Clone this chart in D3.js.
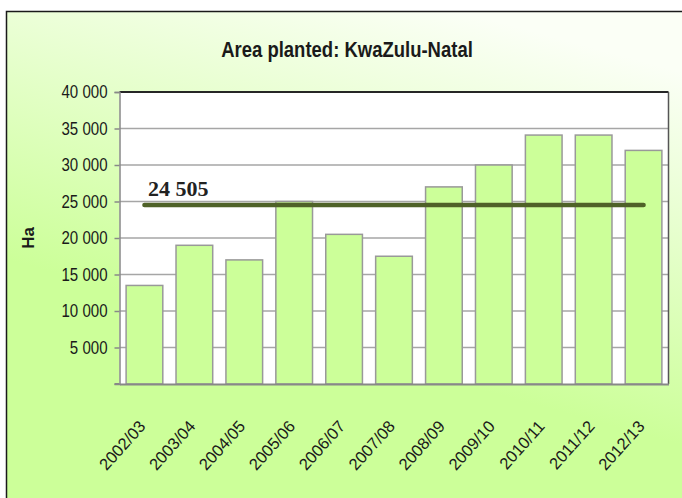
<!DOCTYPE html>
<html>
<head>
<meta charset="utf-8">
<script src="https://cdn.jsdelivr.net/npm/d3@7"></script>
<style>
  body { margin: 0; background: #fff; }
  svg { display: block; }
</style>
</head>
<body>
<div></div>
<script>
var categories = ["2002/03", "2003/04", "2004/05", "2005/06", "2006/07", "2007/08",
    "2008/09", "2009/10", "2010/11", "2011/12", "2012/13"];
var areaPlanted = [13500, 19000, 17000, 25000, 20500, 17500, 27000, 30000, 34100, 34100, 32000];
var averageLine = [24505, 24505, 24505, 24505, 24505, 24505, 24505, 24505, 24505, 24505, 24505];
var averageLabel = "24 505";
var yTicks = [5000, 10000, 15000, 20000, 25000, 30000, 35000, 40000];

var width = 682;
var height = 498;
var plotLeft = 119.5;
var plotRight = 668.5;
var plotTop = 92;
var plotBottom = 384;

var svg = d3.select('div')
    .append('svg')
    .attr('width', width)
    .attr('height', height);

// fondo degradado
var defs = svg.append("defs");
var grad = defs.append("linearGradient")
    .attr("id", "bg")
    .attr("x1", 0.65).attr("y1", 0)
    .attr("x2", 0.4).attr("y2", 0.65);
grad.append("stop").attr("offset", 0).attr("stop-color", "#fbfff6");
grad.append("stop").attr("offset", 1).attr("stop-color", "#ccff99");

svg.append("rect")
    .attr("x", 6.5).attr("y", 11.5)
    .attr("width", 700).attr("height", 500)
    .attr("fill", "url(#bg)")
    .attr("stroke", "#1a1a1a")
    .attr("stroke-width", 1.5);

// escalas
var xscale = d3.scaleBand()
    .domain(categories)
    .range([plotLeft, plotRight])
    .paddingInner(0.265)
    .paddingOuter(0.1325);

var yscale = d3.scaleLinear()
    .domain([0, 40000])
    .range([plotBottom, plotTop]);

var fmt = d3.formatLocale({ decimal: ".", thousands: " ", grouping: [3], currency: ["", ""] }).format(",");

// area del grafico
svg.append("rect")
    .attr("x", plotLeft).attr("y", plotTop)
    .attr("width", plotRight - plotLeft)
    .attr("height", plotBottom - plotTop)
    .attr("fill", "#fff");

// lineas de cuadricula
svg.append("g")
    .selectAll("line")
    .data(yTicks.slice(0, -1))
    .enter()
    .append("line")
    .attr("x1", plotLeft).attr("x2", plotRight)
    .attr("y1", d => yscale(d)).attr("y2", d => yscale(d))
    .attr("stroke", "#a6a6a6")
    .attr("stroke-width", 1.5);

// borde superior y derecho
svg.append("line")
    .attr("x1", plotLeft).attr("x2", plotRight)
    .attr("y1", plotTop).attr("y2", plotTop)
    .attr("stroke", "#262626").attr("stroke-width", 1.8);
svg.append("line")
    .attr("x1", plotRight).attr("x2", plotRight)
    .attr("y1", plotTop).attr("y2", plotBottom)
    .attr("stroke", "#555").attr("stroke-width", 1.5);

// barras
svg.append("g")
    .selectAll("rect")
    .data(areaPlanted)
    .enter()
    .append("rect")
    .attr("x", (d, i) => xscale(categories[i]))
    .attr("y", d => yscale(d))
    .attr("width", xscale.bandwidth())
    .attr("height", d => plotBottom - yscale(d))
    .attr("fill", "#ccff99")
    .attr("stroke", "#999")
    .attr("stroke-width", 1.5);

// ejes
var yaxis = d3.axisLeft(yscale)
    .tickValues(yTicks)
    .tickSize(5)
    .tickPadding(7)
    .tickFormat(fmt);

var gy = svg.append("g")
    .attr("transform", "translate(" + plotLeft + ",0)")
    .call(yaxis);
gy.select(".domain").attr("stroke", "#888").attr("stroke-width", 1.5);
gy.selectAll(".tick line").attr("stroke", "#888").attr("stroke-width", 1.5);
gy.selectAll(".tick text")
    .attr("font-family", "Liberation Sans, Arial, sans-serif")
    .attr("font-size", 17.5)
    .attr("fill", "#1a1a1a")
    .attr("x", -12 / 0.86)
    .attr("transform", "scale(0.86,1)");

var xaxis = d3.axisBottom(xscale).tickSize(0).tickFormat("");
var gx = svg.append("g")
    .attr("transform", "translate(0," + plotBottom + ")")
    .call(xaxis);
gx.select(".domain").attr("stroke", "#888").attr("stroke-width", 2);
svg.append("line")
    .attr("x1", plotLeft - 5).attr("x2", plotLeft)
    .attr("y1", plotBottom).attr("y2", plotBottom)
    .attr("stroke", "#888").attr("stroke-width", 2);

// etiquetas de categorias
svg.append("g")
    .selectAll("text")
    .data(categories)
    .enter()
    .append("text")
    .attr("transform", d => "translate(" + (xscale(d) + xscale.bandwidth() / 2 + 2) + ",427) rotate(-48)")
    .attr("text-anchor", "end")
    .attr("font-family", "Liberation Sans, Arial, sans-serif")
    .attr("font-size", 16.5)
    .attr("fill", "#1a1a1a")
    .text(d => d);

// linea del promedio
var line = d3.line()
    .x((d, i) => xscale(categories[i]) + xscale.bandwidth() / 2)
    .y(d => yscale(d));

svg.append("path")
    .datum(averageLine)
    .attr("d", line)
    .attr("fill", "none")
    .attr("stroke", "#4f6228")
    .attr("stroke-width", 4.5)
    .attr("stroke-linecap", "round");

svg.append("text")
    .attr("x", 148)
    .attr("y", 196)
    .attr("font-family", "Liberation Serif, Times New Roman, serif")
    .attr("font-weight", "bold")
    .attr("font-size", 22)
    .attr("fill", "#222")
    .text(averageLabel);

// titulo
svg.append("text")
    .attr("transform", "translate(347,57) scale(0.86,1)")
    .attr("text-anchor", "middle")
    .attr("font-family", "Liberation Sans, Arial, sans-serif")
    .attr("font-weight", "bold")
    .attr("font-size", 21.5)
    .attr("fill", "#1a1a1a")
    .text("Area planted: KwaZulu-Natal");

svg.append("text")
    .attr("transform", "translate(34,238) rotate(-90)")
    .attr("text-anchor", "middle")
    .attr("font-family", "Liberation Sans, Arial, sans-serif")
    .attr("font-weight", "bold")
    .attr("font-size", 17)
    .attr("fill", "#1a1a1a")
    .text("Ha");
</script>
</body>
</html>
